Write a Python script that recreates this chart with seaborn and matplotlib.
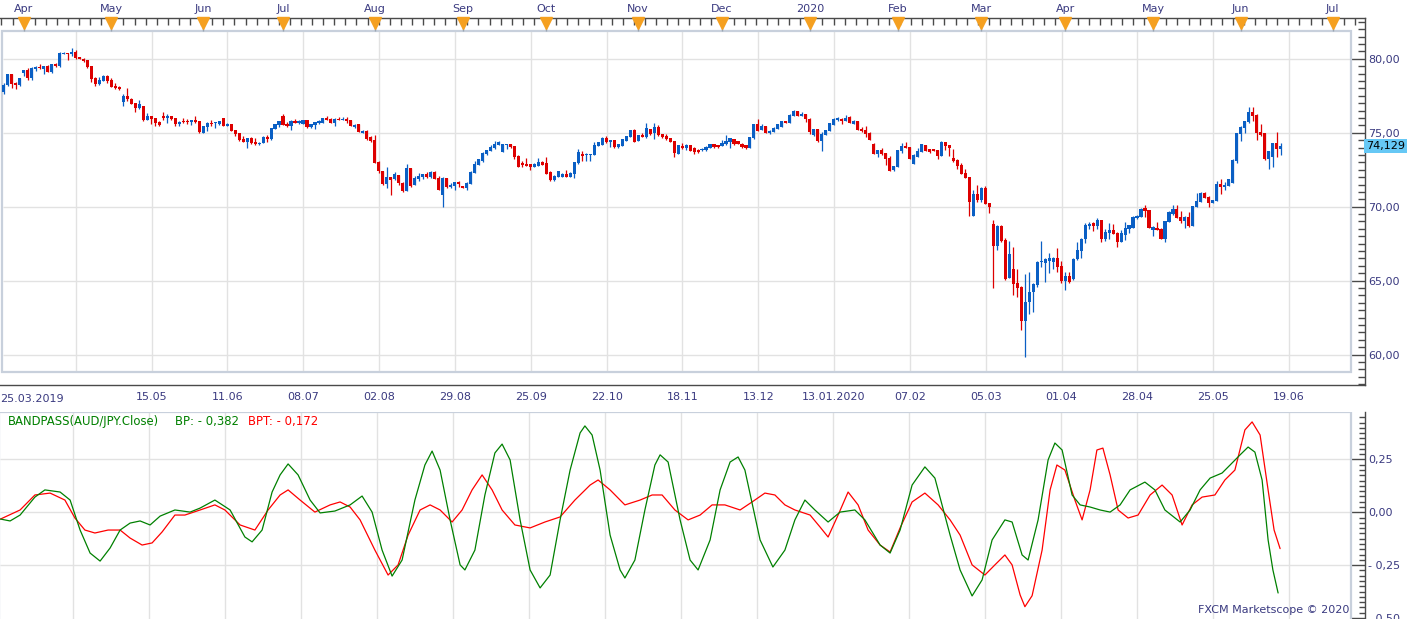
import numpy as np
import matplotlib
matplotlib.use('Agg')
import matplotlib.pyplot as plt
import matplotlib.transforms as mtransforms
import seaborn as sns
from matplotlib.patches import Rectangle
from matplotlib.ticker import FuncFormatter, MultipleLocator, FixedLocator

sns.set_style('white')
plt.rcParams['font.family'] = ['DejaVu Sans']

#%% data - AUD/JPY daily candles from 25.03.2019
opens = [
    77.73, 78.22, 78.96, 78.36, 78.22, 79.03, 79.23, 78.67, 79.28, 79.46,
    79.28, 79.53, 79.12, 79.64, 79.50, 80.34, 80.38, 80.34, 80.48, 80.10,
    80.00, 79.90, 79.50, 78.70, 78.29, 78.50, 78.83, 78.56, 78.15, 78.10,
    77.10, 77.48, 77.30, 76.98, 76.67, 76.80, 75.88, 76.13, 75.97, 75.70,
    76.13, 75.99, 76.13, 75.99, 75.59, 75.79, 75.80, 75.72, 75.85, 75.79,
    75.00, 75.38, 75.67, 75.63, 75.56, 75.99, 75.47, 75.58, 75.18, 75.00,
    74.60, 74.39, 74.64, 74.39, 74.23, 74.33, 74.71, 74.57, 75.27, 75.50,
    76.13, 75.61, 75.47, 75.81, 75.66, 75.59, 75.86, 75.41, 75.50, 75.63,
    75.68, 75.99, 75.95, 75.63, 75.95, 75.88, 75.95, 75.86, 75.41, 75.56,
    74.98, 75.14, 74.73, 74.50, 73.04, 72.41, 71.53, 71.98, 71.85, 72.14,
    71.62, 71.08, 72.59, 71.47, 71.90, 71.98, 72.19, 71.98, 72.35, 71.94,
    70.80, 71.92, 71.31, 71.42, 71.69, 71.40, 71.29, 71.56, 72.30, 72.82,
    73.07, 73.56, 73.76, 73.94, 74.20, 73.72, 74.17, 74.24, 74.10, 73.43,
    72.97, 72.91, 72.86, 72.68, 72.75, 73.04, 72.93, 72.32, 71.80, 72.03,
    72.01, 72.23, 72.01, 72.21, 72.93, 73.58, 73.47, 73.50, 73.49, 74.12,
    74.17, 74.62, 74.40, 74.50, 74.03, 74.10, 74.46, 74.71, 75.18, 74.44,
    74.84, 74.69, 75.25, 74.96, 75.36, 74.91, 74.80, 74.62, 74.44, 73.58,
    74.12, 73.94, 74.17, 73.94, 73.81, 73.81, 73.81, 73.99, 74.24, 74.17,
    74.10, 74.26, 74.40, 74.55, 74.44, 74.26, 74.17, 73.99, 74.62, 75.56,
    75.20, 75.45, 74.98, 75.07, 75.27, 75.41, 75.79, 75.68, 76.13, 76.47,
    76.15, 76.26, 75.93, 74.87, 75.23, 74.46, 74.87, 75.12, 75.52, 75.88,
    75.95, 75.81, 76.08, 75.61, 75.77, 75.25, 75.18, 75.00, 74.26, 73.58,
    73.83, 73.61, 73.27, 72.48, 72.68, 73.77, 74.10, 74.03, 72.90, 73.38,
    73.70, 74.17, 73.88, 73.88, 73.83, 73.45, 74.37, 74.17, 73.29, 73.16,
    72.84, 72.28, 72.01, 69.40, 70.86, 70.45, 71.27, 70.25, 68.83, 67.37,
    68.72, 67.75, 65.18, 65.79, 64.87, 64.58, 62.30, 63.56, 64.27, 64.71,
    66.27, 66.22, 66.33, 66.29, 66.51, 65.99, 64.98, 65.32, 65.11, 66.44,
    67.03, 67.80, 68.72, 68.88, 68.72, 69.10, 67.82, 68.22, 68.43, 68.25,
    67.64, 68.11, 68.47, 68.58, 69.26, 69.32, 69.89, 69.75, 68.43, 68.58,
    68.52, 67.82, 68.99, 69.53, 69.84, 69.32, 69.03, 69.32, 68.72, 69.98,
    70.34, 70.92, 70.66, 70.27, 70.41, 71.53, 71.31, 71.42, 71.62, 73.09,
    74.93, 75.34, 75.75, 76.40, 76.20, 75.05, 74.98, 73.22, 73.34, 74.30,
    73.90]
highs = [
    78.33, 78.98, 79.00, 78.45, 78.70, 79.26, 79.39, 79.42, 79.49, 79.64,
    79.53, 79.57, 79.66, 79.68, 80.43, 80.45, 80.41, 80.70, 80.58, 80.13,
    80.05, 79.93, 79.53, 78.73, 78.76, 78.90, 78.90, 78.67, 78.38, 78.15,
    77.61, 78.00, 77.33, 77.01, 77.20, 76.83, 76.33, 76.16, 76.00, 75.79,
    76.40, 76.26, 76.16, 76.02, 75.79, 75.99, 75.90, 75.88, 76.13, 75.82,
    75.48, 75.70, 75.86, 75.74, 75.82, 76.02, 75.65, 75.61, 75.21, 75.00,
    74.79, 74.67, 74.71, 74.64, 74.39, 74.79, 74.84, 75.32, 75.62, 75.82,
    76.26, 75.70, 75.84, 75.93, 75.86, 75.89, 75.89, 75.61, 75.75, 75.88,
    76.02, 76.13, 75.98, 75.98, 76.06, 76.08, 76.06, 75.89, 75.61, 75.59,
    75.18, 75.18, 74.76, 74.87, 73.07, 72.44, 72.68, 72.01, 72.35, 72.17,
    71.65, 72.88, 72.62, 72.07, 72.25, 72.22, 72.35, 72.38, 72.38, 72.07,
    71.99, 71.95, 71.58, 71.70, 71.76, 71.43, 71.65, 72.38, 73.11, 73.25,
    73.68, 73.86, 74.17, 74.44, 74.44, 74.27, 74.27, 74.27, 74.13, 73.46,
    73.08, 73.27, 72.89, 72.97, 73.27, 73.09, 73.36, 72.43, 72.14, 72.44,
    72.26, 72.46, 72.37, 73.03, 73.90, 73.76, 73.61, 73.57, 74.40, 74.38,
    74.73, 74.78, 74.51, 74.53, 74.24, 74.58, 74.78, 75.21, 75.25, 74.85,
    74.98, 75.63, 75.28, 75.66, 75.52, 74.94, 74.91, 74.65, 74.47, 74.20,
    74.28, 74.24, 74.20, 74.05, 73.90, 74.00, 74.09, 74.27, 74.27, 74.20,
    74.51, 74.82, 74.65, 74.58, 74.47, 74.29, 74.20, 74.74, 75.62, 75.93,
    75.61, 75.48, 75.20, 75.37, 75.59, 75.82, 75.82, 76.23, 76.56, 76.50,
    76.40, 76.29, 75.96, 75.26, 75.26, 75.07, 75.21, 75.68, 76.02, 76.04,
    75.98, 76.20, 76.15, 75.86, 75.80, 75.36, 75.43, 75.03, 74.33, 73.86,
    73.94, 73.64, 73.43, 72.76, 73.86, 74.33, 74.37, 74.06, 73.53, 73.99,
    74.24, 74.20, 73.91, 73.91, 73.86, 74.46, 74.40, 74.20, 73.88, 73.19,
    72.96, 72.53, 72.04, 71.13, 71.47, 71.30, 71.40, 70.28, 69.10, 68.75,
    68.77, 67.88, 67.68, 67.30, 65.79, 64.61, 65.45, 65.59, 64.83, 66.32,
    67.70, 66.55, 66.87, 66.62, 67.21, 66.35, 65.60, 65.60, 66.50, 67.64,
    67.87, 68.88, 68.99, 68.99, 69.26, 69.13, 68.50, 68.90, 68.83, 68.28,
    68.43, 68.97, 68.79, 69.37, 69.44, 69.90, 70.11, 69.78, 68.72, 68.97,
    68.55, 69.06, 69.71, 70.11, 70.11, 69.68, 69.35, 69.65, 70.08, 70.92,
    71.00, 71.00, 70.69, 70.48, 71.73, 71.85, 71.69, 71.88, 73.19, 74.99,
    75.42, 75.82, 76.71, 76.74, 76.25, 75.59, 75.01, 73.79, 74.33, 75.05,
    74.30]
lows = [
    77.61, 78.18, 78.04, 77.95, 78.17, 78.86, 78.58, 78.58, 79.20, 79.28,
    78.96, 79.08, 79.05, 79.46, 79.47, 80.30, 79.91, 80.20, 79.98, 79.95,
    79.81, 79.35, 78.45, 78.15, 78.22, 78.47, 78.38, 78.08, 77.98, 77.90,
    76.83, 77.14, 76.92, 76.40, 76.62, 75.82, 75.84, 75.60, 75.45, 75.43,
    75.86, 75.65, 75.83, 75.48, 75.45, 75.68, 75.59, 75.52, 75.66, 75.00,
    74.98, 75.11, 75.43, 75.34, 75.50, 75.44, 75.44, 75.10, 74.80, 74.47,
    74.34, 73.99, 74.25, 74.16, 74.16, 74.30, 74.39, 74.54, 75.24, 75.41,
    75.51, 75.39, 75.18, 75.63, 75.60, 75.56, 75.33, 75.32, 75.23, 75.59,
    75.65, 75.83, 75.63, 75.45, 75.85, 75.85, 75.66, 75.45, 75.32, 75.02,
    74.95, 74.54, 74.39, 72.92, 72.25, 71.44, 71.29, 70.79, 71.82, 71.50,
    70.97, 71.05, 71.31, 71.44, 71.76, 71.90, 71.95, 71.95, 71.87, 71.10,
    70.00, 71.28, 71.24, 71.13, 71.35, 71.26, 71.13, 71.53, 72.27, 72.79,
    73.04, 73.47, 73.73, 73.91, 74.17, 73.69, 73.92, 73.95, 73.20, 72.67,
    72.70, 72.74, 72.48, 72.65, 72.72, 72.79, 72.20, 71.73, 71.73, 72.00,
    71.98, 71.98, 71.98, 71.92, 72.90, 73.09, 73.09, 73.09, 73.46, 74.09,
    74.14, 74.32, 74.01, 73.98, 74.00, 74.07, 74.43, 74.68, 74.37, 74.41,
    74.68, 74.66, 74.87, 74.55, 74.81, 74.66, 74.54, 74.34, 73.36, 73.55,
    73.88, 73.83, 73.73, 73.54, 73.64, 73.78, 73.78, 73.96, 73.95, 73.98,
    74.07, 74.17, 73.94, 74.19, 74.23, 73.98, 73.88, 73.96, 74.59, 75.11,
    75.17, 74.97, 74.91, 75.04, 75.24, 75.38, 75.63, 75.65, 76.10, 76.10,
    76.12, 75.75, 74.93, 74.80, 74.39, 73.79, 74.84, 75.09, 75.49, 75.81,
    75.61, 75.78, 75.65, 75.58, 75.15, 75.06, 74.74, 74.48, 73.55, 73.38,
    73.51, 72.84, 72.41, 72.41, 72.65, 73.61, 73.96, 73.20, 72.87, 73.35,
    73.67, 73.74, 73.65, 73.74, 73.22, 73.42, 73.83, 73.45, 73.04, 72.55,
    72.20, 71.93, 69.40, 69.37, 70.34, 70.34, 70.18, 69.60, 64.53, 67.08,
    67.63, 65.05, 65.15, 64.04, 63.92, 61.67, 59.87, 62.77, 62.91, 64.60,
    65.95, 64.93, 65.55, 65.77, 65.61, 64.87, 64.40, 64.86, 65.08, 66.41,
    66.51, 67.52, 68.49, 68.38, 68.49, 67.64, 67.70, 67.84, 68.15, 67.28,
    67.61, 67.73, 68.22, 68.55, 69.19, 69.29, 69.30, 68.53, 68.04, 68.40,
    67.79, 67.64, 68.96, 69.44, 69.23, 68.88, 68.54, 68.64, 68.69, 69.95,
    70.31, 70.56, 70.00, 70.24, 70.38, 70.88, 71.13, 71.39, 71.59, 72.97,
    74.46, 75.00, 75.68, 75.81, 74.51, 74.75, 73.16, 72.57, 72.70, 73.38,
    73.47]
closes = [
    78.22, 78.96, 78.29, 78.24, 78.67, 79.23, 78.72, 79.39, 79.46, 79.35,
    79.50, 79.12, 79.64, 79.50, 80.38, 80.38, 80.34, 80.48, 80.05, 79.98,
    79.84, 79.46, 78.65, 78.29, 78.56, 78.85, 78.51, 78.11, 78.04, 77.95,
    77.48, 77.27, 76.96, 76.67, 76.94, 75.86, 76.13, 75.95, 75.63, 75.50,
    75.99, 76.15, 75.90, 75.59, 75.72, 75.72, 75.70, 75.85, 75.70, 75.04,
    75.45, 75.65, 75.56, 75.67, 75.79, 75.47, 75.58, 75.13, 74.89, 74.50,
    74.37, 74.64, 74.28, 74.23, 74.32, 74.71, 74.57, 75.29, 75.59, 75.79,
    75.54, 75.45, 75.81, 75.66, 75.77, 75.86, 75.36, 75.56, 75.72, 75.81,
    75.99, 75.86, 75.66, 75.95, 75.88, 75.92, 75.79, 75.48, 75.54, 75.05,
    75.14, 74.57, 74.42, 72.95, 72.41, 71.51, 71.98, 71.80, 72.19, 71.58,
    71.08, 72.59, 71.40, 71.96, 72.10, 72.19, 71.98, 72.35, 71.90, 71.13,
    71.96, 71.31, 71.49, 71.67, 71.56, 71.29, 71.62, 72.35, 72.88, 73.22,
    73.65, 73.83, 74.06, 74.24, 74.37, 74.24, 74.24, 74.06, 73.38, 72.70,
    72.80, 72.77, 72.70, 72.86, 73.04, 72.82, 72.23, 71.80, 72.10, 72.41,
    72.23, 72.01, 72.28, 73.00, 73.72, 73.43, 73.58, 73.54, 74.17, 74.35,
    74.66, 74.35, 74.48, 74.01, 74.21, 74.55, 74.75, 75.18, 74.40, 74.82,
    74.71, 75.30, 74.93, 75.38, 74.84, 74.69, 74.57, 74.37, 73.61, 74.17,
    73.99, 74.17, 73.76, 73.72, 73.67, 73.88, 74.06, 74.24, 74.03, 74.03,
    74.33, 74.44, 74.62, 74.24, 74.26, 74.01, 73.99, 74.71, 75.59, 75.14,
    75.47, 75.00, 75.11, 75.34, 75.56, 75.79, 75.66, 76.20, 76.49, 76.13,
    76.26, 75.90, 75.03, 75.23, 74.42, 74.91, 75.18, 75.63, 75.93, 75.97,
    75.81, 75.99, 75.68, 75.81, 75.18, 75.09, 74.93, 74.51, 73.58, 73.83,
    73.54, 73.23, 72.44, 72.73, 73.83, 74.10, 73.99, 73.23, 73.50, 73.79,
    74.21, 73.77, 73.72, 73.77, 73.43, 74.39, 74.10, 73.94, 73.07, 72.77,
    72.23, 71.96, 70.34, 70.86, 70.45, 71.27, 70.21, 69.98, 67.37, 68.72,
    67.66, 65.14, 66.80, 64.78, 64.53, 62.30, 63.56, 64.24, 64.80, 66.29,
    66.31, 66.44, 66.51, 66.55, 65.95, 64.98, 65.32, 64.93, 66.47, 67.07,
    67.84, 68.76, 68.83, 68.72, 69.10, 67.82, 68.31, 68.43, 68.18, 67.64,
    68.20, 68.56, 68.76, 69.30, 69.37, 69.87, 69.73, 68.56, 68.61, 68.43,
    67.82, 69.03, 69.66, 69.84, 69.26, 69.03, 69.32, 68.67, 70.05, 70.39,
    70.92, 70.59, 70.27, 70.45, 71.53, 71.31, 71.49, 71.85, 73.16, 74.96,
    75.39, 75.79, 76.38, 76.13, 74.98, 74.84, 73.22, 73.76, 74.30, 73.90,
    74.13]
last_price = 74.129

# bandpass indicator: BP (green) and BPT (red), position in candles
bp_x = [0, 2.4, 4.9, 8.6, 11.1, 14.9, 17.4, 19.9, 22.4, 24.9, 27.4, 29.9, 32.4, 34.9, 37.4, 39.9,
        43.6, 47.4, 49.9, 53.6, 57.4, 61.1, 62.9, 65.4, 67.9, 69.9, 71.9, 74.4, 77.4, 79.9, 83.6,
        87.4, 90.4, 92.9, 95.4, 97.9, 100.4, 103.6, 106.1, 107.9, 109.9, 112.4, 114.9, 116.1, 118.6,
        121.1, 123.6, 125.4, 127.4, 129.9, 132.4, 134.9, 137.4, 139.9, 142.4, 144.9, 146.1, 147.9,
        149.9, 152.4, 154.9, 156.1, 158.6, 161.1, 163.6, 164.9, 166.9, 169.9, 172.4, 174.4, 177.4,
        179.9, 182.4, 184.4, 186.1, 189.9, 193.1, 196.1, 198.6, 201.1, 203.6, 206.9, 209.9, 213.6,
        216.1, 219.9, 222.4, 224.9, 227.9, 231.1, 233.6, 237.4, 239.9, 242.9, 245.4, 247.9, 251.1,
        252.9, 255.4, 256.9, 259.4, 261.9, 263.6, 265.4, 267.9, 269.9, 272.4, 274.9, 277.4, 279.9,
        282.4, 286.1, 288.6, 291.1, 294.9, 297.4, 299.9, 302.4, 305.4, 307.4, 309.9, 311.9, 313.6,
        315.4, 316.9, 318.1, 319.4]
bp_val = [-0.032, -0.041, -0.013, 0.072, 0.106, 0.096, 0.058, -0.084, -0.193, -0.231, -0.169, -0.084,
          -0.051, -0.041, -0.060, -0.018, 0.011, 0.001, 0.020, 0.058, 0.011, -0.117, -0.140, -0.084,
          0.096, 0.177, 0.229, 0.177, 0.058, -0.003, 0.006, 0.035, 0.077, 0.001, -0.179, -0.302,
          -0.226, 0.058, 0.224, 0.290, 0.200, -0.036, -0.249, -0.273, -0.179, 0.082, 0.281, 0.323,
          0.248, -0.036, -0.273, -0.358, -0.297, -0.036, 0.200, 0.376, 0.409, 0.366, 0.200, -0.108,
          -0.273, -0.311, -0.226, 0.011, 0.224, 0.272, 0.238, -0.036, -0.226, -0.273, -0.131, 0.106,
          0.238, 0.262, 0.200, -0.131, -0.259, -0.179, -0.036, 0.058, 0.011, -0.046, 0.001, 0.011,
          -0.036, -0.155, -0.193, -0.084, 0.129, 0.215, 0.162, -0.108, -0.273, -0.396, -0.320, -0.131,
          -0.036, -0.046, -0.202, -0.226, -0.036, 0.248, 0.328, 0.295, 0.082, 0.035, 0.025, 0.011,
          0.001, 0.035, 0.106, 0.143, 0.106, 0.011, -0.046, 0.011, 0.106, 0.162, 0.186, 0.224, 0.272,
          0.309, 0.285, 0.153, -0.131, -0.273, -0.382]
bpt_x = [0, 4.9, 8.6, 12.4, 16.1, 18.6, 21.1, 23.6, 26.9, 29.9, 32.4, 35.4, 37.9, 40.4, 43.6, 46.1,
         49.9, 53.6, 56.1, 59.9, 63.6, 66.9, 69.9, 71.9, 74.9, 78.6, 82.4, 84.9, 87.4, 89.9, 93.6,
         96.9, 99.4, 101.9, 104.9, 107.4, 109.9, 112.9, 115.4, 117.9, 120.4, 122.9, 125.4, 128.6,
         132.4, 136.1, 139.9, 143.6, 147.4, 149.4, 152.4, 156.1, 159.9, 162.9, 165.4, 168.6, 171.9,
         174.9, 177.9, 181.1, 184.9, 187.9, 191.1, 193.6, 196.1, 198.6, 202.4, 204.9, 206.9, 209.4,
         211.9, 214.4, 216.9, 219.9, 222.4, 224.9, 227.9, 231.1, 234.4, 237.4, 239.9, 242.9, 246.1,
         248.6, 251.1, 252.9, 254.9, 256.1, 257.9, 260.4, 262.4, 264.1, 266.1, 268.6, 270.4, 272.4,
         274.1, 275.6, 277.4, 279.4, 281.9, 284.4, 287.4, 290.4, 292.9, 295.4, 297.9, 300.4, 303.6,
         306.1, 308.6, 311.1, 312.9, 314.9, 316.9, 318.4, 319.9]
bpt_val = [-0.032, 0.011, 0.082, 0.091, 0.058, -0.027, -0.084, -0.098, -0.084, -0.084, -0.122, -0.155,
           -0.145, -0.093, -0.013, -0.013, 0.011, 0.035, 0.011, -0.060, -0.084, 0.011, 0.082, 0.106,
           0.058, 0.001, 0.035, 0.049, 0.025, -0.036, -0.179, -0.297, -0.249, -0.108, 0.011, 0.035,
           0.011, -0.046, 0.011, 0.106, 0.177, 0.106, 0.011, -0.060, -0.074, -0.046, -0.022, 0.058,
           0.129, 0.153, 0.106, 0.035, 0.058, 0.082, 0.082, 0.011, -0.036, -0.013, 0.035, 0.035, 0.011,
           0.049, 0.091, 0.082, 0.035, 0.011, -0.013, -0.070, -0.117, -0.013, 0.096, 0.035, -0.084,
           -0.155, -0.188, -0.074, 0.049, 0.091, 0.035, -0.036, -0.108, -0.249, -0.297, -0.249, -0.202,
           -0.249, -0.391, -0.447, -0.395, -0.179, 0.106, 0.224, 0.200, 0.058, -0.036, 0.106, 0.295,
           0.304, 0.177, 0.011, -0.027, -0.013, 0.082, 0.129, 0.082, -0.060, 0.035, 0.072, 0.082, 0.153,
           0.200, 0.390, 0.428, 0.366, 0.106, -0.084, -0.172]
bp_last = -0.382
bpt_last = -0.172

# axis labels
date_labels = ['25.03.2019', '', '15.05', '11.06', '08.07', '02.08', '29.08', '25.09', '22.10',
               '18.11', '13.12', '13.01.2020', '07.02', '05.03', '01.04', '28.04', '25.05', '19.06']
month_labels = ['Apr', 'May', 'Jun', 'Jul', 'Aug', 'Sep', 'Oct', 'Nov', 'Dec', '2020',
                'Feb', 'Mar', 'Apr', 'May', 'Jun', 'Jul']
month_idx = [5, 27, 50, 70, 93, 115, 136, 159, 180, 202, 224, 245, 266, 288, 310, 333]

#%% layout helpers (pixel geometry of the 1423x619 canvas)
W, H = 1423, 619
NAVY = '#3a3a80'
GRID = '#e2e2e2'
FRAME = '#c8d0dc'
AXC = '#4a4a4a'
UP, DOWN = '#0a5fc4', '#dd0000'


def fx(p):
    return p / W


def fy(p):
    return 1 - p / H


def pix_x(p):      # pixel column -> candle index
    return (p - 0.5) / 4.0


def price_y(p):    # pixel row -> price
    return 80 - (p - 58.7) / 14.8


def bp_y(p):       # pixel row -> indicator value
    return (512.3 - p) / 211.2


def comma(v, pos=None, nd=2):
    s = f'{abs(v):.{nd}f}'.replace('.', ',')
    return ('- ' + s) if v < -1e-9 else s


fig = plt.figure(figsize=(W / 100, H / 100), dpi=100)
fig.patch.set_facecolor('white')

xt = np.arange(len(date_labels)) * 19 - 0.925

#%% price panel
ax = fig.add_axes([0, fy(385), fx(1365), (385 - 18.3) / H])
ax.set_xlim(pix_x(0), pix_x(1365))
ax.set_ylim(price_y(385), price_y(18.3))

ax.hlines([60, 65, 70, 75, 80], pix_x(0), pix_x(1351), color=GRID, lw=1, zorder=0)
ax.vlines(xt[1:], price_y(372), price_y(31), color=GRID, lw=1, zorder=0)
ax.add_patch(Rectangle((pix_x(-1), price_y(372)), pix_x(1351) - pix_x(-1),
                       price_y(31) - price_y(372), fill=False, ec=FRAME, lw=1.6, zorder=1))

O, Hh, L, C = map(np.array, (opens, highs, lows, closes))
idx = np.arange(len(C))
cols = np.where(C >= O, UP, DOWN)
ax.vlines(idx, L, Hh, colors=cols, lw=0.9, zorder=3)
ax.bar(idx, np.maximum(np.abs(C - O), 0.07), bottom=np.minimum(O, C), width=0.78,
       color=cols, linewidth=0, zorder=4)

ax.spines['left'].set_visible(False)
for s in ['right', 'top', 'bottom']:
    ax.spines[s].set_color(AXC)
    ax.spines[s].set_linewidth(1)

ax.yaxis.tick_right()
ax.set_yticks([60, 65, 70, 75, 80])
ax.yaxis.set_minor_locator(MultipleLocator(0.5))
ax.yaxis.set_major_formatter(FuncFormatter(comma))
ax.tick_params(axis='y', which='major', direction='in', length=10, width=1, color=AXC,
               pad=2, labelsize=8, labelcolor=NAVY)
ax.tick_params(axis='y', which='minor', direction='in', length=5, width=1, color=AXC)

ax.set_xticks(xt)
ax.set_xticklabels([''] + date_labels[1:])
ax.xaxis.set_minor_locator(FixedLocator(np.arange(xt[0], pix_x(1365), 19 / 6)))
ax.tick_params(axis='x', which='major', direction='in', length=9.4, width=1, color=AXC,
               pad=5, labelsize=8, labelcolor=NAVY)
ax.tick_params(axis='x', which='minor', direction='in', length=3.6, width=1, color=AXC)
fig.text(fx(0), fy(399), date_labels[0], ha='left', va='center', fontsize=8, color=NAVY)

# top month strip
tr = mtransforms.blended_transform_factory(ax.transData, ax.transAxes)
ph = 385 - 18.3
top_ticks = np.arange(5 - 2.78 * 2, pix_x(1365), 2.78)
ax.vlines(top_ticks, 1 - 7 / ph, 1, transform=tr, color=AXC, lw=1, clip_on=False)
ax.vlines(month_idx, 1 - 13 / ph, 1, transform=tr, color='#9aa4b0', lw=1, clip_on=False, zorder=5)
ax.plot(month_idx, [1 - 4.5 / ph] * len(month_idx), ls='none', marker='v', ms=8,
        color='#f5a020', mec='#f5a020', transform=tr, clip_on=False, zorder=6)
for m, lab in zip(month_idx, month_labels):
    ax.text(m, 1 + 9.5 / ph, lab, transform=tr, ha='center', va='center',
            fontsize=8, color=NAVY)

fig.text(fx(1366), fy(145.5), comma(last_price, nd=3), ha='left', va='center', fontsize=8,
         color='black', bbox=dict(boxstyle='square,pad=0.18', fc='#66c8f5', ec='none'))

#%% bandpass panel
ax2 = fig.add_axes([0, 0, fx(1365), (619 - 412) / H])
ax2.hlines([0.25, 0.0, -0.25], pix_x(0), pix_x(1351), color=GRID, lw=1, zorder=0)
ax2.vlines(xt[1:], bp_y(640), bp_y(412), color=GRID, lw=1, zorder=0)
ax2.add_patch(Rectangle((pix_x(-1), bp_y(640)), pix_x(1351) - pix_x(-1),
                        bp_y(412) - bp_y(640), fill=False, ec=FRAME, lw=1.6, zorder=1))

sns.lineplot(x=bpt_x, y=bpt_val, color='#ff0000', lw=0.9, ax=ax2, zorder=3)
sns.lineplot(x=bp_x, y=bp_val, color='#008000', lw=0.9, ax=ax2, zorder=4)
ax2.set_xlim(pix_x(0), pix_x(1365))
ax2.set_ylim(bp_y(619), bp_y(412))
ax2.set_xlabel('')
ax2.set_ylabel('')

for s in ['left', 'top', 'bottom']:
    ax2.spines[s].set_visible(False)
ax2.spines['right'].set_color(AXC)
ax2.spines['right'].set_linewidth(1)
ax2.set_xticks([])
ax2.yaxis.tick_right()
ax2.set_yticks([-0.5, -0.25, 0.0, 0.25])
ax2.yaxis.set_minor_locator(MultipleLocator(0.025))
ax2.yaxis.set_major_formatter(FuncFormatter(comma))
ax2.tick_params(axis='y', which='major', direction='in', length=10, width=1, color=AXC,
                pad=2, labelsize=8, labelcolor=NAVY)
ax2.tick_params(axis='y', which='minor', direction='in', length=4.5, width=1, color=AXC)

fig.text(fx(8), fy(421), 'BANDPASS(AUD/JPY.Close)', ha='left', va='center', fontsize=8.4, color='#008000')
fig.text(fx(175), fy(421), 'BP: ' + comma(bp_last, nd=3), ha='left', va='center', fontsize=8.4, color='#008000')
fig.text(fx(248), fy(421), 'BPT: ' + comma(bpt_last, nd=3), ha='left', va='center', fontsize=8.4, color='#ff0000')
fig.text(fx(1349), fy(610), 'FXCM Marketscope \u00a9 2020', ha='right', va='center', fontsize=8, color=NAVY)

fig.savefig('out.png', dpi=100)
